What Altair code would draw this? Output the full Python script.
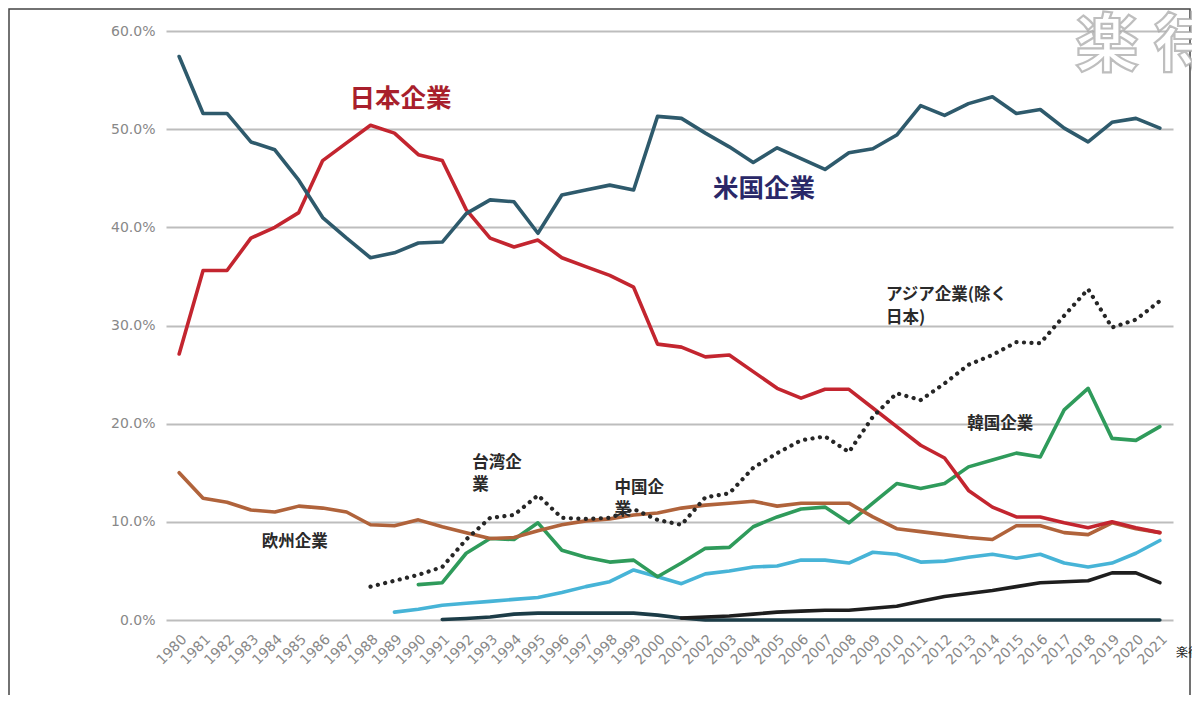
import altair as alt
import pandas as pd

# ---------------- data ----------------
years = list(range(1980, 2022))

us = [57.4, 51.6, 51.6, 48.7, 47.9, 44.8, 41.0, 38.9, 36.9, 37.4,
      38.4, 38.5, 41.4, 42.8, 42.6, 39.4, 43.3, 43.8, 44.3, 43.8,
      51.3, 51.1, 49.6, 48.2, 46.6, 48.1, 47.0, 45.9, 47.6, 48.0,
      49.4, 52.4, 51.4, 52.6, 53.3, 51.6, 52.0, 50.1, 48.7, 50.7,
      51.1, 50.1]

japan = [27.1, 35.6, 35.6, 38.9, 40.0, 41.5, 46.8, 48.6, 50.4, 49.6,
         47.4, 46.8, 41.8, 38.9, 38.0, 38.7, 36.9, 36.0, 35.1, 33.9,
         28.1, 27.8, 26.8, 27.0, 25.3, 23.6, 22.6, 23.5, 23.5, 21.6,
         19.7, 17.8, 16.5, 13.2, 11.5, 10.5, 10.5, 9.9, 9.4, 10.0,
         9.4, 8.9]

europe = [15.0, 12.4, 12.0, 11.2, 11.0, 11.6, 11.4, 11.0, 9.7, 9.6,
          10.2, 9.5, 8.9, 8.3, 8.4, 9.1, 9.7, 10.1, 10.3, 10.7,
          10.9, 11.4, 11.7, 11.9, 12.1, 11.6, 11.9, 11.9, 11.9, 10.5,
          9.3, 9.0, 8.7, 8.4, 8.2, 9.6, 9.6, 8.9, 8.7, 9.9,
          9.3, 8.9]

asia_years = list(range(1988, 2022))
asia = [3.4, 4.0, 4.6, 5.4, 8.2, 10.4, 10.7, 12.7, 10.4, 10.3,
        10.4, 11.3, 10.2, 9.7, 12.5, 12.9, 15.5, 17.0, 18.3, 18.7,
        17.1, 20.7, 23.1, 22.4, 24.1, 26.0, 27.0, 28.3, 28.2, 31.0,
        33.7, 29.8, 30.6, 32.5]

korea_years = list(range(1990, 2022))
korea = [3.6, 3.8, 6.8, 8.3, 8.2, 9.9, 7.1, 6.4, 5.9, 6.1,
         4.4, 5.8, 7.3, 7.4, 9.5, 10.5, 11.3, 11.5, 9.9, 11.9,
         13.9, 13.4, 13.9, 15.6, 16.3, 17.0, 16.6, 21.4, 23.6, 18.5,
         18.3, 19.7]

taiwan_years = list(range(1989, 2022))
taiwan = [0.8, 1.1, 1.5, 1.7, 1.9, 2.1, 2.3, 2.8, 3.4, 3.9,
          5.1, 4.4, 3.7, 4.7, 5.0, 5.4, 5.5, 6.1, 6.1, 5.8,
          6.9, 6.7, 5.9, 6.0, 6.4, 6.7, 6.3, 6.7, 5.8, 5.4,
          5.8, 6.8, 8.1]

china_years = list(range(2001, 2022))
china = [0.2, 0.3, 0.4, 0.6, 0.8, 0.9, 1.0, 1.0, 1.2, 1.4,
         1.9, 2.4, 2.7, 3.0, 3.4, 3.8, 3.9, 4.0, 4.8, 4.8,
         3.8]

other_years = list(range(1991, 2022))
other = [0.05, 0.15, 0.3, 0.6, 0.7, 0.7, 0.7, 0.7, 0.7, 0.5,
         0.2, 0.0, 0.0, 0.0, 0.0, 0.0, 0.0, 0.0, 0.0, 0.0,
         0.0, 0.0, 0.0, 0.0, 0.0, 0.0, 0.0, 0.0, 0.0, 0.0,
         0.0]

y_ticks = [0, 10, 20, 30, 40, 50, 60]

# series name -> (years, values)
solid_series = [
    ("その他", other_years, other),
    ("中国企業", china_years, china),
    ("台湾企業", taiwan_years, taiwan),
    ("韓国企業", korea_years, korea),
    ("欧州企業", years, europe),
    ("日本企業", years, japan),
    ("米国企業", years, us),
]

# styles
colors = {
    "その他": "#1c3c47",
    "中国企業": "#1e1e1e",
    "台湾企業": "#47b4d7",
    "韓国企業": "#2f9b5b",
    "欧州企業": "#b0633b",
    "日本企業": "#c3252f",
    "米国企業": "#2e5a6c",
}

JP = "Noto Sans CJK JP"
AX = "DejaVu Sans"

x_enc = alt.X(
    "year:Q",
    scale=alt.Scale(domain=[1979.45, 2021.55], nice=False, zero=False),
    axis=alt.Axis(values=years, format="d", labelAngle=315, grid=False,
                  domain=False, ticks=False, labelColor="#888888",
                  labelFont=AX, labelFontSize=14, labelPadding=12,
                  labelOverlap=False, labelBound=False, labelFlush=False),
    title=None,
)
y_enc = alt.Y(
    "value:Q",
    scale=alt.Scale(domain=[0, 60], nice=False),
    axis=alt.Axis(values=y_ticks, labelExpr="format(datum.value, '.1f') + '%'",
                  grid=True, gridColor="#bdbdbd", gridWidth=2,
                  domain=False, ticks=False, labelColor="#888888",
                  labelFont=AX, labelFontSize=14, labelPadding=11),
    title=None,
)

layers = []

# frame around the whole figure
frame = alt.Chart(alt.Data(values=[{"f": 1}])).mark_rect(
    filled=False, stroke="#444", strokeWidth=1.5
).encode(x=alt.value(-157), x2=alt.value(1024), y=alt.value(-22), y2=alt.value(720))
layers.append(frame)

# solid lines
for name, yrs, vals in solid_series:
    df = pd.DataFrame({"year": yrs, "value": vals, "series": name})
    layers.append(
        alt.Chart(df).mark_line(color=colors[name], strokeWidth=3.6,
                                strokeJoin="round", strokeCap="round")
        .encode(x=x_enc, y=y_enc)
    )

# dotted Asia line
asia_df = pd.DataFrame({"year": asia_years, "value": asia, "series": "アジア企業"})
layers.append(
    alt.Chart(asia_df).mark_line(color="#262626", strokeWidth=4.2,
                                 strokeDash=[0.1, 7.4], strokeCap="round")
    .encode(x=x_enc, y=y_enc)
)

# annotations (in data coordinates)
def label(text, yr, val, size, color, weight="bold", align="left"):
    d = pd.DataFrame({"year": [yr], "value": [val], "t": [text]})
    return alt.Chart(d).mark_text(
        font=JP, fontSize=size, color=color, fontWeight=weight,
        align=align, baseline="middle"
    ).encode(x=x_enc, y=y_enc, text="t:N")

small = 16.5
big = 25.5
ink = "#2a2a2a"
layers += [
    label("日本企業", 1989.25, 53.1, big, "#a81f2c", "bold", "center"),
    label("米国企業", 2004.45, 43.9, big, "#2a2868", "bold", "center"),
    label("アジア企業(除く", 2009.55, 33.1, small, ink),
    label("日本)", 2009.55, 30.8, small, ink),
    label("韓国企業", 2012.95, 20.0, small, ink),
    label("台湾企", 1992.25, 16.0, small, ink),
    label("業", 1992.25, 13.8, small, ink),
    label("中国企", 1998.2, 13.45, small, ink),
    label("業", 1998.2, 11.25, small, ink),
    label("欧州企業", 1983.45, 7.95, small, ink),
]

# watermark: white glyphs with a grey outline
layers.append(
    alt.Chart(alt.Data(values=[{"t": "楽 待"}])).mark_text(
        font=JP, fontSize=64, fontWeight="bold", fill="#ffffff",
        stroke="#a8a8a8", strokeWidth=2.2, strokeOpacity=0.75,
        align="left", baseline="middle")
    .encode(x=alt.value(909), y=alt.value(16), text="t:N")
)

layers.append(
    alt.Chart(alt.Data(values=[{"t": "楽待"}])).mark_text(
        font=JP, fontSize=12, color="#222", align="left", baseline="middle")
    .encode(x=alt.value(1010), y=alt.value(622), text="t:N")
)

chart = alt.layer(*layers).properties(
    width=1007, height=589,
    autosize=alt.AutoSizeParams(type="none"),
    padding={"left": 158, "top": 23, "right": 19, "bottom": 75},
    background="white",
).configure_view(stroke=None)

chart.save("out.html", embed_options={"renderer": "svg", "actions": False})
